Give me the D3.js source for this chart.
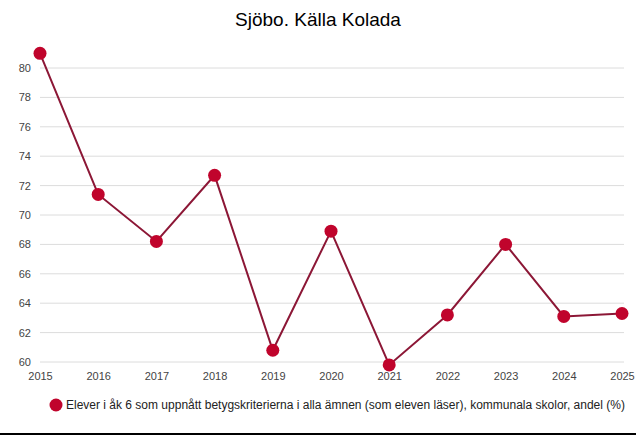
<!DOCTYPE html>
<html lang="sv">
<head>
<meta charset="utf-8"/>
<script src="https://d3js.org/d3.v7.min.js"></script>
<style>
  body { margin: 0; background: #fff; }
  text { font-family: "Liberation Sans", Arial, sans-serif; }
</style>
</head>
<body>
<div id="chart"></div>
<script>
// värden
var years = [2015, 2016, 2017, 2018, 2019, 2020, 2021, 2022, 2023, 2024, 2025];
var values = [81.0, 71.4, 68.2, 72.7, 60.8, 68.9, 59.8, 63.2, 68.0, 63.1, 63.3];
var yTicks = [60, 62, 64, 66, 68, 70, 72, 74, 76, 78, 80];
var title = "Sjöbo. Källa Kolada";
var seriesName = "Elever i åk 6 som uppnått betygskriterierna i alla ämnen (som eleven läser), kommunala skolor, andel (%)";

var W = 636, H = 435;
var margin = {top: 68, right: 14, bottom: 73, left: 40};

var svg = d3.select("#chart").append("svg")
    .attr("width", W).attr("height", H);

var x = d3.scaleLinear().domain([2015, 2025]).range([margin.left, 622]);
var y = d3.scaleLinear().domain([60, 80]).range([362, 68]);

svg.append("text")
    .attr("x", W / 2).attr("y", 26)
    .attr("text-anchor", "middle")
    .style("font-size", "19px").style("fill", "#000")
    .text(title);

// rutnät
svg.append("g").selectAll("line").data(yTicks).enter().append("line")
    .attr("x1", x(2015)).attr("x2", 624)
    .attr("y1", function(d) { return y(d); })
    .attr("y2", function(d) { return y(d); })
    .style("stroke", "#dcdcdc").style("stroke-width", 1);

// y-axel
var yAxis = svg.append("g")
    .attr("transform", "translate(" + 31 + ",0)")
    .call(d3.axisLeft(y).tickValues(yTicks).tickSize(0).tickPadding(0));
yAxis.select(".domain").remove();
yAxis.selectAll("text").style("font-size", "11px").style("fill", "#444")
    .attr("dy", "0.32em");

// x-axel
var xAxis = svg.append("g")
    .attr("transform", "translate(0," + 372 + ")")
    .call(d3.axisBottom(x).tickValues(years).tickFormat(d3.format("d")).tickSize(0).tickPadding(0));
xAxis.select(".domain").remove();
xAxis.selectAll("text").style("font-size", "11px").style("fill", "#444");

// linje
var line = d3.line()
    .x(function(d, i) { return x(years[i]); })
    .y(function(d) { return y(d); });

svg.append("path")
    .datum(values)
    .attr("d", line)
    .style("fill", "none")
    .style("stroke", "#8c1736")
    .style("stroke-width", 2);

svg.append("g").selectAll("circle").data(values).enter().append("circle")
    .attr("cx", function(d, i) { return x(years[i]); })
    .attr("cy", function(d) { return y(d); })
    .attr("r", 6.5)
    .style("fill", "#c0042c");

// förklaring
svg.append("circle")
    .attr("cx", 56).attr("cy", 405).attr("r", 6.5)
    .style("fill", "#c0042c");
svg.append("text")
    .attr("x", 66).attr("y", 409)
    .style("font-size", "12px").style("fill", "#222")
    .text(seriesName);

svg.append("line")
    .attr("x1", 0).attr("x2", W)
    .attr("y1", 434).attr("y2", 434)
    .style("stroke", "#000").style("stroke-width", 2);
</script>
</body>
</html>
